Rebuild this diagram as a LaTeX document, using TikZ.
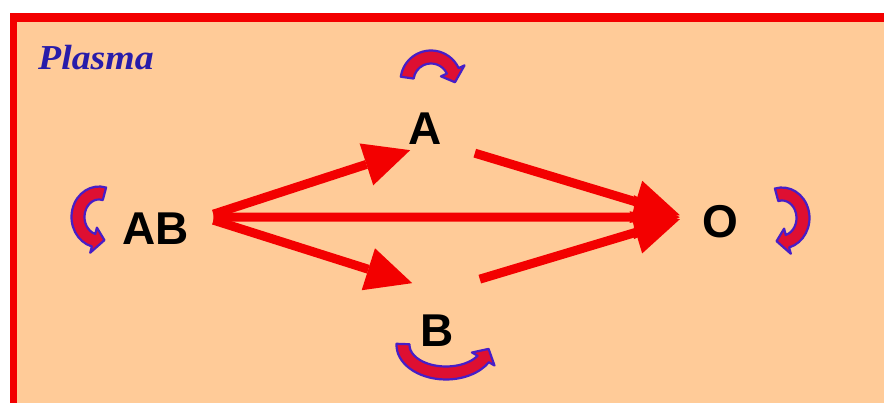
\documentclass[tikz,border=0pt]{standalone}
\usepackage{fontspec}
\setmainfont{Liberation Sans}
\newfontfamily\plasmafont{Liberation Serif}
\usetikzlibrary{arrows.meta,calc}
\definecolor{peach}{RGB}{255,203,152}
\definecolor{flowred}{RGB}{243,0,0}
\definecolor{loopblue}{RGB}{70,30,200}
\definecolor{loopred}{RGB}{222,15,50}
\definecolor{plasmablue}{RGB}{40,28,170}
% curved self-arrow: centre (#1,#2), radii #3/#4, from angle #5 to #6, tip #7 degrees further on
\newcommand\turnarrow[7]{%
  \filldraw[turn] ($(#1,#2)+(#5:#3+6.5 and #4+6.5)$)
    arc[start angle=#5,end angle=#6,x radius=#3+6.5,y radius=#4+6.5]
    -- ($(#1,#2)+(#6:#3+13 and #4+13)$)
    -- ($(#1,#2)+(#6+#7:#3 and #4)$)
    -- ($(#1,#2)+(#6:#3-13 and #4-13)$)
    -- ($(#1,#2)+(#6:#3-6.5 and #4-6.5)$)
    arc[start angle=#6,end angle=#5,x radius=#3-6.5,y radius=#4-6.5]
    -- cycle;}
\begin{document}
\begin{tikzpicture}[x=1pt,y=1pt,
  species/.style={font=\fontsize{46}{46}\selectfont\bfseries, inner sep=0pt},
  flow/.style={draw=flowred, line width=9pt,
    -{Triangle[length=46pt,width=44pt,line width=0pt]}},
  turn/.style={fill=loopred, draw=loopblue, line width=2.2pt, line join=round}]
  \useasboundingbox (0,0) rectangle (884,403);
  \fill[white] (0,0) rectangle (884,403);
  % plasma compartment with its red edge
  \fill[peach] (10,0) rectangle (884,390);
  \fill[flowred] (10,381) rectangle (884,390);
  \fill[flowred] (10,0) rectangle (17,390);
  \node[anchor=base west, inner sep=0pt, text=plasmablue,
        font=\plasmafont\fontsize{35}{35}\selectfont\bfseries\itshape] (plasma) at (38,333)
        {\scalebox{1.08}[1]{Plasma}};

  % turnover loops
  \turnarrow{431}{322}{24}{24}{172}{25}{-28}
  \turnarrow{99}{186}{21}{24}{75}{255}{30}
  \turnarrow{782}{185}{21}{24}{105}{-75}{-30}
  \turnarrow{446}{58}{43}{28}{178}{330}{22}

  % species
  \node[species, anchor=base] (AB) at (156,158) {AB};
  \node[species, anchor=base] (A) at (425,258) {A};
  \node[species, anchor=base] (B) at (437,56) {B};
  \node[species, anchor=base] (O) at (720,165) {O};

  % conversion paths
  \draw[flow] ([shift={(24,15)}]AB.east) -- ([shift={(2,-21)}]A.west);
  \draw[flow] ([shift={(24,9)}]AB.east) -- ([shift={(-8,32)}]B.north west);
  \draw[flow] ([shift={(24,12)}]AB.east) -- ([shift={(-22,5)}]O.west);
  \draw[flow] ([shift={(33,-24)}]A.east) -- ([shift={(-22,7)}]O.west);
  \draw[flow] ([shift={(26,36)}]B.north east) -- ([shift={(-22,3)}]O.west);
\end{tikzpicture}
\end{document}
